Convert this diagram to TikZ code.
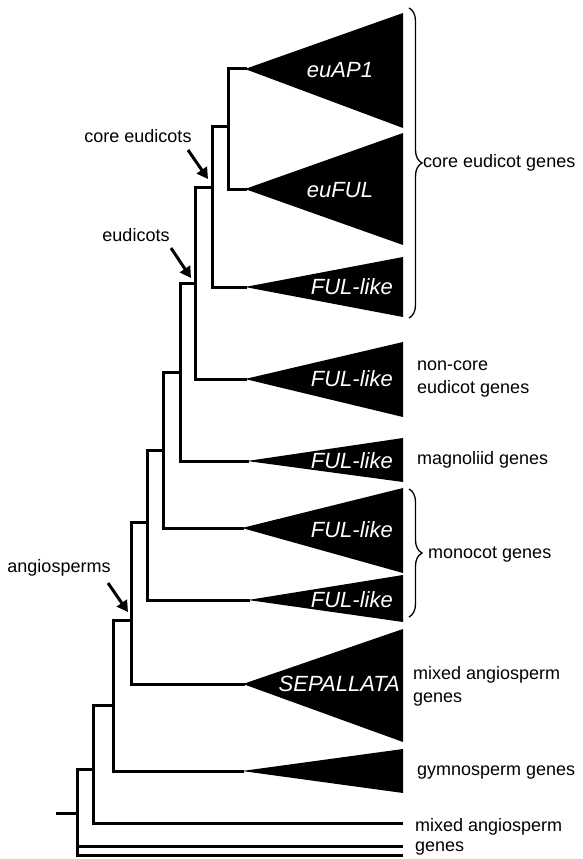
\documentclass[tikz,border=0pt]{standalone}
\usepackage{fontspec}
\setmainfont{Liberation Sans}
\usetikzlibrary{arrows.meta,decorations.pathreplacing}

\tikzset{
  branch/.style={line width=3pt, line cap=rect},
  clade/.style={fill=black},
  cladename/.style={text=white, inner sep=0pt, font=\fontsize{22}{22}\selectfont\itshape},
  genes/.style={anchor=west, align=left, inner sep=0pt, font=\fontsize{18}{23}\selectfont},
  taxon/.style={inner sep=0pt, font=\fontsize{18}{23}\selectfont},
  pointer/.style={line width=3pt, -{Triangle[length=11pt,width=12pt]}},
  grp/.style={decorate, decoration={brace, amplitude=13pt}, line width=1.3pt},
}

\begin{document}
\begin{tikzpicture}[x=1pt,y=-1pt]
\useasboundingbox (0,0) rectangle (582,859);

\coordinate (t1) at (245,69);
\coordinate (t2) at (245,189);
\coordinate (t3) at (245,287);
\coordinate (t4) at (245,379);
\coordinate (t5) at (247,461);
\coordinate (t6) at (242,528);
\coordinate (t7) at (248,600);
\coordinate (t8) at (243,684);
\coordinate (t9) at (242,771);
\coordinate (m1) at (401,823);
\coordinate (m2) at (401,846);
\coordinate (m3) at (401,855);

\fill[clade] (t1) -- (403,13) -- (403,128) -- cycle;
\fill[clade] (t2) -- (403,133) -- (403,245) -- cycle;
\fill[clade] (t3) -- (403,257) -- (403,317) -- cycle;
\fill[clade] (t4) -- (403,342) -- (403,417) -- cycle;
\fill[clade] (t5) -- (403,438) -- (403,482) -- cycle;
\fill[clade] (t6) -- (403,488) -- (403,573) -- cycle;
\fill[clade] (t7) -- (403,575) -- (403,622) -- cycle;
\fill[clade] (t8) -- (403,629) -- (403,742) -- cycle;
\fill[clade] (t9) -- (403,749) -- (403,793) -- cycle;

\node[cladename] (n1) at (340,70) {euAP1};
\node[cladename] (n2) at (340,190) {euFUL};
\node[cladename, anchor=east] (n3) at (393,287) {FUL-like};
\node[cladename, anchor=east] (n4) at (393,379) {FUL-like};
\node[cladename, anchor=east] (n5) at (393,461) {FUL-like};
\node[cladename, anchor=east] (n6) at (393,530) {FUL-like};
\node[cladename, anchor=east] (n7) at (393,600) {FUL-like};
\node[cladename, anchor=east] (n8) at (400,684) {SEPALLATA};

\coordinate (R) at (228,126);
\coordinate (Q) at (212,187);
\coordinate (P) at (195,283);
\coordinate (O) at (180,372);
\coordinate (N) at (163,450);
\coordinate (M) at (147,522);
\coordinate (D) at (131,620);
\coordinate (C) at (113,705);
\coordinate (B) at (93,769);
\coordinate (A) at (77,813);
\coordinate (root) at (57,813);

\draw[branch] (R) |- (t1);
\draw[branch] (R) |- (t2);
\draw[branch] (Q) |- (R);
\draw[branch] (Q) |- (t3);
\draw[branch] (P) |- (Q);
\draw[branch] (P) |- (t4);
\draw[branch] (O) |- (P);
\draw[branch] (O) |- (t5);
\draw[branch] (N) |- (O);
\draw[branch] (N) |- (t6);
\draw[branch] (M) |- (N);
\draw[branch] (M) |- (t7);
\draw[branch] (D) |- (M);
\draw[branch] (D) |- (t8);
\draw[branch] (C) |- (D);
\draw[branch] (C) |- (t9);
\draw[branch] (B) |- (C);
\draw[branch] (B) |- (m1);
\draw[branch] (A) |- (B);
\draw[branch] (A) |- (m2);
\draw[branch] (A) |- (m3);
\draw[branch] (root) -- (A);

\node[taxon] (l1) at (138,136) {core eudicots};
\node[taxon] (l2) at (136,235) {eudicots};
\node[taxon] (l3) at (59,568) {angiosperms};

\coordinate (p1) at (188,150);
\coordinate (q1) at (208,179);
\coordinate (p2) at (171,248);
\coordinate (q2) at (191,278);
\coordinate (p3) at (108,583);
\coordinate (q3) at (128,612);

\draw[pointer] (p1) -- (q1);
\draw[pointer] (p2) -- (q2);
\draw[pointer] (p3) -- (q3);

\coordinate (b1) at (409,8);
\coordinate (b2) at (409,318);
\coordinate (b3) at (409,489);
\coordinate (b4) at (409,617);

\draw[grp] (b1) -- (b2);
\draw[grp] (b3) -- (b4);

\node[genes] (g1) at (423,163) {core eudicot genes};
\node[genes] (g2) at (417,379) {non-core\\eudicot genes};
\node[genes] (g3) at (417,460) {magnoliid genes};
\node[genes] (g4) at (428,555) {monocot genes};
\node[genes] (g5) at (413,686) {mixed angiosperm\\genes};
\node[genes] (g6) at (417,773) {gymnosperm genes};
\node[genes, font=\fontsize{18}{20}\selectfont] (g7) at (415,837) {mixed angiosperm\\genes};
\end{tikzpicture}
\end{document}
